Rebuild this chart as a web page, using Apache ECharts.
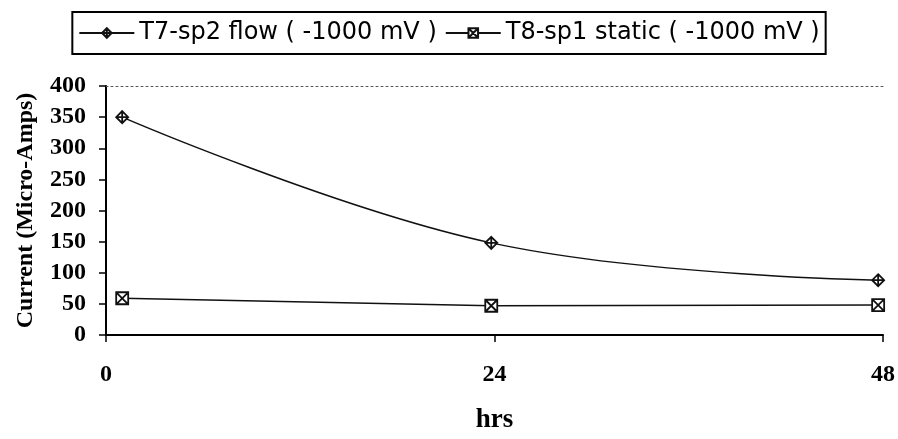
<!DOCTYPE html>
<html><head><meta charset="utf-8">
<script src="https://cdn.jsdelivr.net/npm/echarts@6/dist/echarts.min.js"></script>
<style>html,body{margin:0;padding:0;background:#fff}#c{width:898px;height:439px}</style>
</head><body><div id="c"></div>
<script>
const seriesNames = ['T7-sp2 flow ( -1000 mV )', 'T8-sp1 static ( -1000 mV )'];
const hours = [1, 23.8, 47.7];
const flowValues = [350, 148, 88];
const staticValues = [59, 47, 48];
const xTicks = [0, 24, 48];
const yTicks = [0, 50, 100, 150, 200, 250, 300, 350, 400];

const chart = echarts.init(document.getElementById('c'));
const serif = '"Liberation Serif","Times New Roman",serif';
const sans = '"DejaVu Sans",Arial,sans-serif';
const boxX = 'path://M0,0 L10,0 L10,10 L0,10 Z M0,0 L10,10 M10,0 L0,10';
const starDiamond = 'path://M5,0 L10,5 L5,10 L0,5 Z M5,0 L5,10 M0,5 L10,5';
chart.setOption({
  animation: false,
  backgroundColor: '#fff',
  legend: {
    top: 12, left: 'center',
    data: seriesNames,
    borderColor: '#000', borderWidth: 2,
    padding: [9, 6, 9, 6],
    itemWidth: 55, itemHeight: 12, itemGap: 8,
    textStyle: { fontFamily: sans, fontSize: 24, color: '#000' }
  },
  grid: { left: 106, right: 15, top: 86, bottom: 102 },
  xAxis: [{
    type: 'value', min: xTicks[0], max: xTicks[xTicks.length - 1], interval: 24,
    name: 'hrs', nameLocation: 'middle', nameGap: 72,
    nameTextStyle: { fontFamily: serif, fontWeight: 'bold', fontSize: 27, color: '#000' },
    axisLine: { lineStyle: { color: '#000', width: 2 } },
    axisTick: { show: true, length: 7, lineStyle: { color: '#000', width: 1.5 } },
    axisLabel: { margin: 28, fontFamily: serif, fontWeight: 'bold', fontSize: 24, color: '#000' },
    splitLine: { show: false }
  }, {
    type: 'value', position: 'top', min: 0, max: 48,
    axisLine: { show: true, onZero: false, lineStyle: { color: '#555', width: 1, type: [2, 3] } },
    axisTick: { show: false }, axisLabel: { show: false }, splitLine: { show: false }
  }],
  yAxis: {
    type: 'value', min: yTicks[0], max: yTicks[yTicks.length - 1], interval: 50,
    name: 'Current (Micro-Amps)', nameLocation: 'middle', nameGap: 68, nameRotate: 90,
    nameTextStyle: { fontFamily: serif, fontWeight: 'bold', fontSize: 24, color: '#000' },
    axisLine: { show: true, lineStyle: { color: '#000', width: 2 } },
    axisTick: { show: true, length: 7, lineStyle: { color: '#000', width: 1.5 } },
    axisLabel: { margin: 20, fontFamily: serif, fontWeight: 'bold', fontSize: 24, color: '#000' },
    splitLine: { show: false }
  },
  series: [{
    name: seriesNames[0], type: 'line', smooth: 0.4,
    data: hours.map((h, i) => [h, flowValues[i]]),
    symbol: starDiamond, symbolSize: 12,
    lineStyle: { color: '#111', width: 1.5 },
    itemStyle: { color: '#fff', borderColor: '#111', borderWidth: 1.8 }
  }, {
    name: seriesNames[1], type: 'line',
    data: hours.map((h, i) => [h, staticValues[i]]),
    symbol: boxX, symbolSize: 12,
    lineStyle: { color: '#111', width: 1.5 },
    itemStyle: { color: '#fff', borderColor: '#111', borderWidth: 1.8 }
  }]
});
</script></body></html>
